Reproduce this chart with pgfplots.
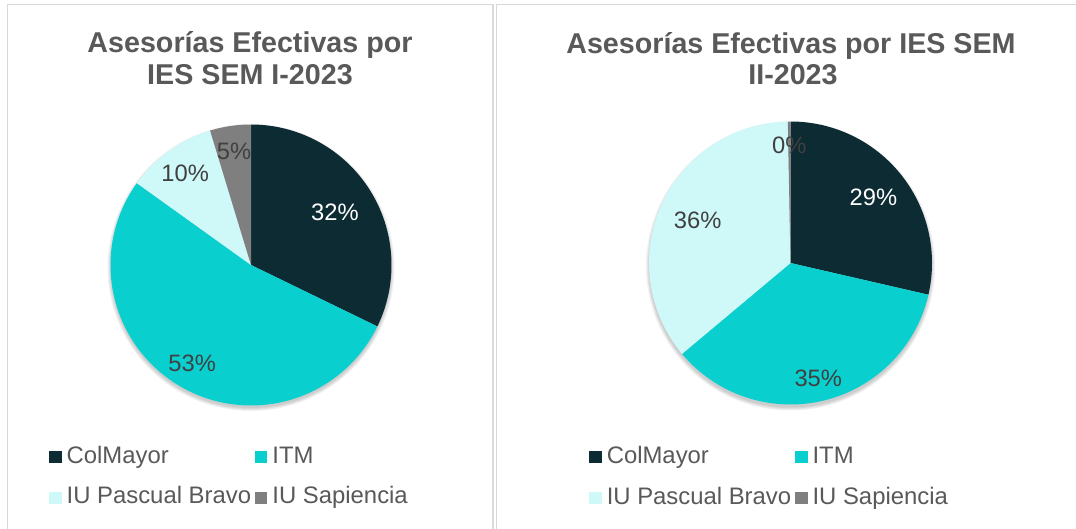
\documentclass[border=0pt]{standalone}
\usepackage{fontspec}
\setmainfont{Liberation Sans}
\usepackage{pgfplots}
\usepackage{pgfplotstable}
\pgfplotsset{compat=1.18}
\definecolor{cCol}{HTML}{0D2B33}
\definecolor{cITM}{HTML}{0ACFCF}
\definecolor{cPas}{HTML}{CFF8F8}
\definecolor{cSap}{HTML}{7F7F7F}
\definecolor{cTxt}{HTML}{595959}
\definecolor{cLbl}{HTML}{404040}
\definecolor{cBrd}{HTML}{D9D9D9}

% value = share in %, lr = label distance from centre (px)
\pgfplotstableread{
ies value lr
ColMayor 32.2 99
ITM 52.7 115
Pascual 10.4 113
Sapiencia 4.7 115
}\tblI
\pgfplotstableread{
ies value lr
ColMayor 28.6 106
ITM 35.3 119
Pascual 35.8 102
Sapiencia 0.3 118
}\tblII

\newcommand\getslice[3]{%
  \pgfplotstablegetelem{#2}{value}\of#1\let\pcV\pgfplotsretval
  \pgfplotstablegetelem{#2}{lr}\of#1\let\pcR\pgfplotsretval
  \pgfmathsetmacro\pcE{\pcS-3.6*\pcV}%
  \expandafter\xdef\csname #3s\endcsname{\pcS}%
  \expandafter\xdef\csname #3e\endcsname{\pcE}%
  \pgfmathsetmacro\pcM{(\pcS+\pcE)/2}%
  \pgfmathsetmacro\pcX{\pcR*cos(\pcM)}%
  \pgfmathsetmacro\pcY{\pcR*sin(\pcM)}%
  \expandafter\xdef\csname #3x\endcsname{\pcX}%
  \expandafter\xdef\csname #3y\endcsname{\pcY}%
  \pgfmathparse{int(round(\pcV))}%
  \expandafter\xdef\csname #3t\endcsname{\pgfmathresult}%
  \global\let\pcS\pcE}

\def\pcS{90}
\getslice{\tblI}{0}{La}\getslice{\tblI}{1}{Lb}\getslice{\tblI}{2}{Lc}\getslice{\tblI}{3}{Ld}
\def\pcS{90}
\getslice{\tblII}{0}{Ra}\getslice{\tblII}{1}{Rb}\getslice{\tblII}{2}{Rc}\getslice{\tblII}{3}{Rd}

\newcommand\lblfont{\fontsize{17.8}{20}\selectfont}
\newcommand\ttlfont{\fontsize{21.5}{24}\selectfont\bfseries}

\pgfplotsset{
  piestyle/.style={
    x=0.75pt, y=0.75pt,
    xmin=-150, xmax=150, ymin=-150, ymax=150,
    hide axis, clip=false, anchor=center,
    legend image code/.code={\fill[##1] (0pt,-4.65pt) rectangle (9.3pt,4.65pt);},
    legend style={draw=none, fill=none, text=cTxt,
      font=\fontsize{17.9}{20}\selectfont,
      legend columns=2, inner sep=0pt, outer sep=0pt,
      row sep=14.75pt, legend cell align=left,
      nodes={inner sep=0pt, text height=12.5pt, text depth=3.5pt},
      /tikz/every odd column/.append style={column sep=3.75pt},
      /tikz/every even column/.append style={column sep=3pt}},
  }
}

\begin{document}
\begin{tikzpicture}[x=0.75pt,y=0.75pt]
\useasboundingbox (0,0) rectangle (1076,529);
\fill[white] (0,0) rectangle (1076,529);
\clip (0,0) rectangle (1076,529);
% panel borders
\draw[cBrd, line width=1.1pt] (7.5,-5) -- (7.5,524.5) -- (493,524.5) -- (493,-5);
\draw[cBrd, line width=1.1pt] (1090,524.5) -- (496.5,524.5) -- (496.5,-5);
% titles
\node[font=\ttlfont, text=cTxt, anchor=base] at (250,476.7) {Asesorías Efectivas por};
\node[font=\ttlfont, text=cTxt, anchor=base] at (250,444) {IES SEM I-2023};
\node[font=\ttlfont, text=cTxt, anchor=base] at (791,475.7) {Asesorías Efectivas por IES SEM};
\node[font=\ttlfont, text=cTxt, anchor=base] at (793,444) {II-2023};
% soft shadows
\foreach \k in {0,1,2,3} {
  \fill[black, opacity=0.05] (251,261.5) circle[radius=140.5+\k];
  \fill[black, opacity=0.05] (790.5,263) circle[radius=141.5+\k];
}

% ---- pie I ----
\begin{axis}[piestyle, at={(188.25pt,198pt)},
  legend style={at={(axis cs:-201.7,-212.5)}, anchor=west}]
\addplot[fill=cCol, draw=none, domain=\Lae:\Las, samples=120] ({140.5*cos(x)},{140.5*sin(x)}) -- (axis cs:0,0) -- cycle;
\addplot[fill=cITM, draw=none, domain=\Lbe:\Lbs, samples=160] ({140.5*cos(x)},{140.5*sin(x)}) -- (axis cs:0,0) -- cycle;
\addplot[fill=cPas, draw=none, domain=\Lce:\Lcs, samples=60] ({140.5*cos(x)},{140.5*sin(x)}) -- (axis cs:0,0) -- cycle;
\addplot[fill=cSap, draw=none, domain=\Lde:\Lds, samples=40] ({140.5*cos(x)},{140.5*sin(x)}) -- (axis cs:0,0) -- cycle;
\legend{ColMayor, ITM, IU Pascual Bravo, IU Sapiencia}
\node[font=\lblfont, text=white] at (axis cs:\Lax,\Lay) {\Lat\%};
\node[font=\lblfont, text=cLbl] at (axis cs:\Lbx,\Lby) {\Lbt\%};
\node[font=\lblfont, text=cLbl] at (axis cs:\Lcx,\Lcy) {\Lct\%};
\node[font=\lblfont, text=cLbl] at (axis cs:\Ldx,\Ldy) {\Ldt\%};
\end{axis}

% ---- pie II ----
\begin{axis}[piestyle, at={(592.875pt,199.5pt)},
  legend style={at={(axis cs:-201.1,-214.5)}, anchor=west}]
\addplot[fill=cCol, draw=none, domain=\Rae:\Ras, samples=120] ({141.5*cos(x)},{141.5*sin(x)}) -- (axis cs:0,0) -- cycle;
\addplot[fill=cITM, draw=none, domain=\Rbe:\Rbs, samples=120] ({141.5*cos(x)},{141.5*sin(x)}) -- (axis cs:0,0) -- cycle;
\addplot[fill=cPas, draw=none, domain=\Rce:\Rcs, samples=120] ({141.5*cos(x)},{141.5*sin(x)}) -- (axis cs:0,0) -- cycle;
\addplot[fill=cSap, draw=none, domain=\Rde:\Rds, samples=10] ({141.5*cos(x)},{141.5*sin(x)}) -- (axis cs:0,0) -- cycle;
\legend{ColMayor, ITM, IU Pascual Bravo, IU Sapiencia}
\node[font=\lblfont, text=white] at (axis cs:\Rax,\Ray) {\Rat\%};
\node[font=\lblfont, text=cLbl] at (axis cs:\Rbx,\Rby) {\Rbt\%};
\node[font=\lblfont, text=cLbl] at (axis cs:\Rcx,\Rcy) {\Rct\%};
\node[font=\lblfont, text=cLbl] at (axis cs:\Rdx,\Rdy) {\Rdt\%};
\end{axis}
\end{tikzpicture}
\end{document}
